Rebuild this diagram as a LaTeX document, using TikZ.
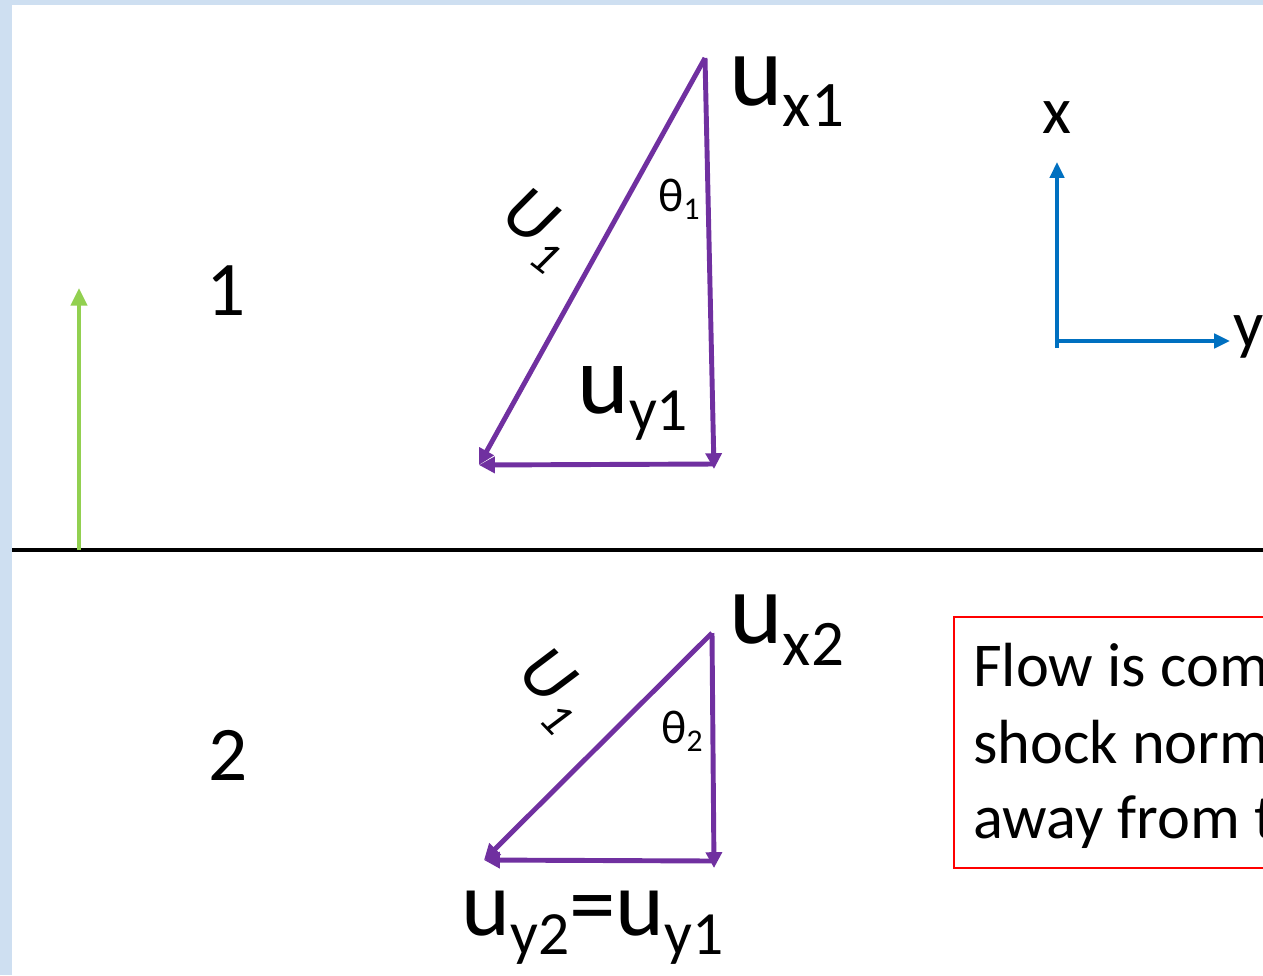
\documentclass[tikz,border=0pt]{standalone}
\usepackage{fontspec}
\setmainfont{Carlito}
\usetikzlibrary{arrows.meta}
\definecolor{bgblue}{RGB}{206,223,241}
\definecolor{vpurple}{RGB}{112,48,160}
\definecolor{axblue}{RGB}{0,112,192}
\definecolor{flowgreen}{RGB}{146,208,80}
\newcommand\fsz[1]{\fontsize{#1}{#1}\selectfont}
\newcommand\lowered[3]{\raisebox{-#1}{\fsz{#2}#3}}
\begin{document}
\begin{tikzpicture}[x=0.02cm,y=-0.02cm,
  vec/.style={draw=vpurple,line width=2.8pt,-{Triangle[length=9pt,width=9pt]}},
  axis/.style={draw=axblue,line width=2.6pt,-{Triangle[length=9pt,width=8pt]}},
  flow/.style={draw=flowgreen,line width=2.3pt,-{Triangle[length=10pt,width=9pt]}},
  shockline/.style={draw=black,line width=2.7pt},
  ulabel/.style={anchor=base west,inner sep=0pt},
  region/.style={anchor=base,inner sep=0pt,font=\fsz{44}},
  boxtxt/.style={anchor=base west,inner sep=0pt,font=\fsz{35.5}},
  redbox/.style={draw=red,line width=1.1pt}]
\useasboundingbox (0,0) rectangle (1263,975);
\clip (0,0) rectangle (1263,975);
\fill[bgblue] (0,0) rectangle (1263,975);
\fill[white] (12,5) rectangle (1263,975);

% shock line
\coordinate (shL) at (12,550);
\coordinate (shR) at (1263,550);
\draw[shockline] (shL) -- (shR);

% green flow arrow
\coordinate (gB) at (79,550);
\coordinate (gT) at (79,288);
\draw[flow] (gB) -- (gT);

% region numbers
\node[region] (reg1) at (226,315) {1};
\node[region] (reg2) at (228,780) {2};

% triangle 1
\coordinate (t1top) at (705,58);
\coordinate (t1br) at (714,469);
\coordinate (t1brh) at (714,464);
\coordinate (t1bl) at (479,465);
\draw[vec] (t1top) -- (t1br);
\draw[vec] (t1top) -- (t1bl);
\draw[vec] (t1brh) -- (t1bl);

\node[ulabel] (ux1) at (729,105) {\fsz{58}u\lowered{12pt}{37}{x1}};
\node[ulabel] (uy1) at (577,413) {\fsz{56}u\lowered{10pt}{35}{y1}};
\node[ulabel] (th1) at (658,211) {\fsz{27}θ\lowered{5pt}{18}{1}};
\node[rotate=-38,inner sep=0pt,font=\itshape] (U1a) at (536,230) {\fsz{41}U\kern1pt\lowered{9pt}{27}{1}};

% triangle 2
\coordinate (t2top) at (712,633);
\coordinate (t2br) at (714,868);
\coordinate (t2brh) at (714,861);
\coordinate (t2bl) at (484,860);
\draw[vec] (t2top) -- (t2br);
\draw[vec] (t2top) -- (t2bl);
\draw[vec] (t2brh) -- (t2bl);

\node[ulabel] (ux2) at (729,643) {\fsz{58}u\lowered{13pt}{37}{x2}};
\node[ulabel] (th2) at (661,743) {\fsz{27}θ\lowered{5pt}{18}{2}};
\node[rotate=-46,inner sep=0pt,font=\itshape] (U1b) at (551,690) {\fsz{41}U\kern1pt\lowered{9pt}{27}{1}};
\node[ulabel] (uy2) at (461,935) {\fsz{53}u\lowered{11pt}{35}{y2}=u\lowered{11pt}{35}{y1}};

% axes
\coordinate (ax0) at (1057,348);
\coordinate (axC) at (1057,341);
\coordinate (axX) at (1057,162);
\coordinate (axY) at (1230,341);
\draw[axis] (ax0) -- (axX);
\draw[axis] (axC) -- (axY);
\node[inner sep=0pt,font=\fsz{38}] (xlab) at (1057,118) {x};
\node[ulabel,font=\fsz{38}] (ylab) at (1233,347) {y};

% note box
\draw[redbox] (954,617) rectangle (1300,868);
\node[boxtxt] (bt1) at (973,686) {Flow is com};
\node[boxtxt] (bt2) at (973,763) {shock norm};
\node[boxtxt] (bt3) at (973,838) {away from t};
\end{tikzpicture}
\end{document}
